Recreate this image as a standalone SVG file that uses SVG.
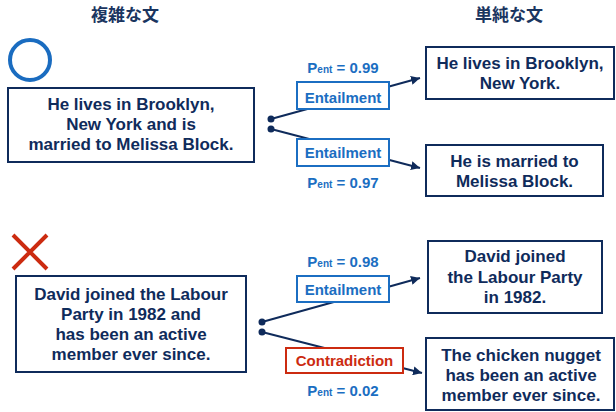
<svg xmlns="http://www.w3.org/2000/svg" width="616" height="412" viewBox="0 0 616 412">
<defs>
<marker id="arr" viewBox="0 0 10 10" refX="10" refY="5" markerWidth="4.5" markerHeight="4.5" orient="auto" markerUnits="strokeWidth">
<path d="M0,0 L10,5 L0,10 Z" fill="#0f2b5b"/>
</marker>
<style>
.t{font-family:"Liberation Sans",Arial,sans-serif;font-weight:bold;text-anchor:middle}
.main{font-size:17px;fill:#0f2b5b}
.hdr{font-family:"Liberation Sans","Noto Sans CJK JP",sans-serif;font-weight:bold;font-size:17px;fill:#1a3560;text-anchor:middle}
.box{fill:#fff;stroke:#0f2b5b;stroke-width:2}
.lbl{fill:#fff;stroke:#1b6ec2;stroke-width:2}
.lblr{fill:#fff;stroke:#cc2b10;stroke-width:2}
.lt{font-size:15px;fill:#1b6ec2}
.lr{font-size:15px;fill:#cc2b10}
.p{font-size:15px;fill:#1b6ec2}
.sub{font-size:10px}
.ln{stroke:#0f2b5b;stroke-width:2;fill:none}
.dot{fill:#0f2b5b}
</style>
</defs>
<text class="hdr" x="125" y="21">複雑な文</text>
<text class="hdr" x="509" y="21">単純な文</text>
<circle cx="30" cy="60" r="20" fill="none" stroke="#1a6cc0" stroke-width="4"/>
<path d="M13,235 L47,269 M47,235 L13,269" stroke="#cc2b10" stroke-width="4" fill="none"/>
<g id="connectors">
<path class="ln" d="M271,119 L420,78" marker-end="url(#arr)"/>
<path class="ln" d="M271,129 L420,168" marker-end="url(#arr)"/>
<path class="ln" d="M262,322 L420,278" marker-end="url(#arr)"/>
<path class="ln" d="M262,332 L422,373" marker-end="url(#arr)"/>
<circle class="dot" cx="271" cy="119" r="3.5"/>
<circle class="dot" cx="271" cy="129" r="3.5"/>
<circle class="dot" cx="262" cy="322" r="3.5"/>
<circle class="dot" cx="262" cy="332" r="3.5"/>
</g>
<g id="src1">
<rect class="box" x="8" y="88" width="246" height="74"/>
<text class="t main" x="131" y="110">He lives in Brooklyn,</text>
<text class="t main" x="131" y="130">New York and is</text>
<text class="t main" x="131" y="150">married to Melissa Block.</text>
</g>
<g id="lbl1">
<text class="t p" x="343" y="73">P<tspan class="sub">ent</tspan> = 0.99</text>
<rect class="lbl" x="297" y="82" width="92" height="27"/>
<text class="t lt" x="343" y="103">Entailment</text>
</g>
<g id="lbl2">
<rect class="lbl" x="297" y="139" width="92" height="27"/>
<text class="t lt" x="343" y="158">Entailment</text>
<text class="t p" x="343" y="188">P<tspan class="sub">ent</tspan> = 0.97</text>
</g>
<g id="tgt1">
<rect class="box" x="426" y="47" width="188" height="52"/>
<text class="t main" x="520" y="69">He lives in Brooklyn,</text>
<text class="t main" x="520" y="89">New York.</text>
</g>
<g id="tgt2">
<rect class="box" x="426" y="145" width="177" height="51"/>
<text class="t main" x="514.5" y="167">He is married to</text>
<text class="t main" x="514.5" y="187">Melissa Block.</text>
</g>
<g id="src2">
<rect class="box" x="16" y="276" width="230" height="96"/>
<text class="t main" x="131" y="300">David joined the Labour</text>
<text class="t main" x="131" y="320">Party in 1982 and</text>
<text class="t main" x="131" y="340">has been an active</text>
<text class="t main" x="131" y="360">member ever since.</text>
</g>
<g id="lbl3">
<text class="t p" x="343" y="267">P<tspan class="sub">ent</tspan> = 0.98</text>
<rect class="lbl" x="297" y="276" width="92" height="26"/>
<text class="t lt" x="343" y="295">Entailment</text>
</g>
<g id="lbl4">
<rect class="lblr" x="286" y="348" width="117" height="25"/>
<text class="t lr" x="344.5" y="366">Contradiction</text>
<text class="t p" x="343" y="396">P<tspan class="sub">ent</tspan> = 0.02</text>
</g>
<g id="tgt3">
<rect class="box" x="428" y="241" width="174" height="72"/>
<text class="t main" x="515" y="262">David joined</text>
<text class="t main" x="515" y="283">the Labour Party</text>
<text class="t main" x="515" y="303">in 1982.</text>
</g>
<g id="tgt4">
<rect class="box" x="426" y="338" width="188" height="72"/>
<text class="t main" x="521" y="361">The chicken nugget</text>
<text class="t main" x="521" y="381">has been an active</text>
<text class="t main" x="521" y="401">member ever since.</text>
</g>
</svg>
